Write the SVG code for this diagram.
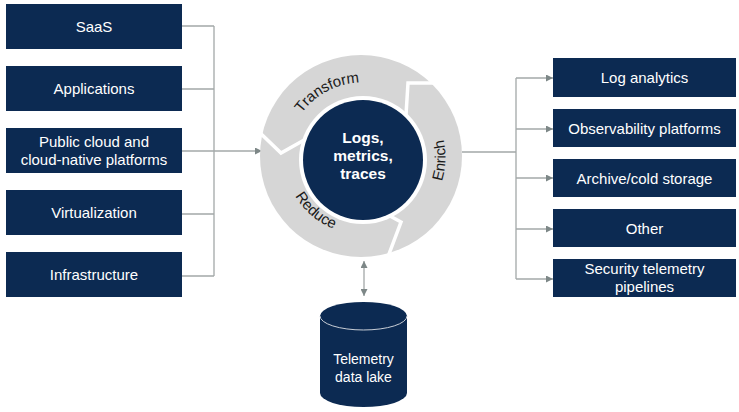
<svg xmlns="http://www.w3.org/2000/svg" width="739" height="412" viewBox="0 0 739 412">
<defs>
<style>
.box{fill:#0c2a52}
.bt{fill:#ffffff;font-family:"Liberation Sans",Arial,sans-serif;font-size:15px;text-anchor:middle}
.ct{fill:#ffffff;font-family:"Liberation Sans",Arial,sans-serif;font-size:15.5px;font-weight:bold;text-anchor:middle}
.at{fill:#1a1a1a;font-family:"Liberation Sans",Arial,sans-serif;font-size:15px;text-anchor:middle}
.ln{stroke:#a3a8a8;stroke-width:1.3;fill:none}
.sep{stroke:#ffffff;stroke-width:3.5;fill:none;stroke-linejoin:miter}
</style>
<marker id="ah" viewBox="0 0 10 10" refX="10" refY="5" markerWidth="7" markerHeight="7" markerUnits="userSpaceOnUse" orient="auto-start-reverse">
<path d="M0,0 L10,5 L0,10 Z" fill="#7d8787"/>
</marker>
<path id="pT" d="M295.2 191 A75 75 0 0 1 427.6 120.6"/>
<path id="pE" d="M359.9 241 A84 84 0 0 0 367 73.2"/>
<path id="pR" d="M303.2 108.5 A76 76 0 0 0 418.9 207.3"/>
</defs>
<rect width="739" height="412" fill="#ffffff"/>
<g id="connectors">
<path class="ln" d="M182 26 H214 M182 89 H214 M182 214 H214 M182 276 H214 M214 26 V276"/>
<path class="ln" d="M182 151 H262" marker-end="url(#ah)"/>
<path class="ln" d="M462 152 H516 M516 78 V279"/>
<path class="ln" d="M516 78 H553" marker-end="url(#ah)"/>
<path class="ln" d="M516 129 H553" marker-end="url(#ah)"/>
<path class="ln" d="M516 178 H553" marker-end="url(#ah)"/>
<path class="ln" d="M516 229 H553" marker-end="url(#ah)"/>
<path class="ln" d="M516 279 H553" marker-end="url(#ah)"/>
<path class="ln" d="M364 261 V296" marker-start="url(#ah)" marker-end="url(#ah)"/>
</g>
<g id="saas"><rect class="box" x="6" y="4" width="176" height="45"/><text class="bt" x="94" y="32">SaaS</text></g>
<g id="applications"><rect class="box" x="6" y="66" width="176" height="45"/><text class="bt" x="94" y="94">Applications</text></g>
<g id="public-cloud"><rect class="box" x="6" y="128" width="176" height="45"/><text class="bt" x="94" y="147">Public cloud and</text><text class="bt" x="94" y="165">cloud-native platforms</text></g>
<g id="virtualization"><rect class="box" x="6" y="190" width="176" height="45"/><text class="bt" x="94" y="218">Virtualization</text></g>
<g id="infrastructure"><rect class="box" x="6" y="252" width="176" height="45"/><text class="bt" x="94" y="280">Infrastructure</text></g>
<g id="cycle">
<circle cx="361" cy="156" r="101" fill="#d6d6d6"/>
<polyline class="sep" points="254,127 281,153 306,139"/>
<polyline class="sep" points="406,115 408,83 448,83"/>
<polyline class="sep" points="379,210 401,222 386,262"/>
<circle cx="363" cy="160" r="64" fill="#ffffff"/>
<circle cx="363" cy="160" r="60" fill="#0c2a52"/>
<text class="ct" x="363" y="143">Logs,</text>
<text class="ct" x="363" y="161">metrics,</text>
<text class="ct" x="363" y="179">traces</text>
<text class="at"><textPath href="#pT" startOffset="50%">Transform</textPath></text>
<text class="at"><textPath href="#pE" startOffset="50%">Enrich</textPath></text>
<text class="at"><textPath href="#pR" startOffset="50%">Reduce</textPath></text>
</g>
<g id="log-analytics"><rect class="box" x="553" y="58" width="183" height="39"/><text class="bt" x="644.5" y="83">Log analytics</text></g>
<g id="observability"><rect class="box" x="553" y="109" width="183" height="38"/><text class="bt" x="644.5" y="133.5">Observability platforms</text></g>
<g id="archive"><rect class="box" x="553" y="159" width="183" height="38"/><text class="bt" x="644.5" y="183.5">Archive/cold storage</text></g>
<g id="other"><rect class="box" x="553" y="209" width="183" height="38"/><text class="bt" x="644.5" y="233.5">Other</text></g>
<g id="security"><rect class="box" x="553" y="259" width="183" height="38"/><text class="bt" x="644.5" y="274">Security telemetry</text><text class="bt" x="644.5" y="292">pipelines</text></g>
<g id="data-lake">
<path class="box" d="M320 316 V393 A43.5 14 0 0 0 407 393 V316 A43.5 14 0 0 0 320 316 Z"/>
<path d="M320 316 A43.5 14 0 0 0 407 316" fill="none" stroke="#c9ced6" stroke-width="1"/>
<text class="bt" x="363.5" y="364" style="font-size:14px">Telemetry</text>
<text class="bt" x="363.5" y="382" style="font-size:14px">data lake</text>
</g>
</svg>
